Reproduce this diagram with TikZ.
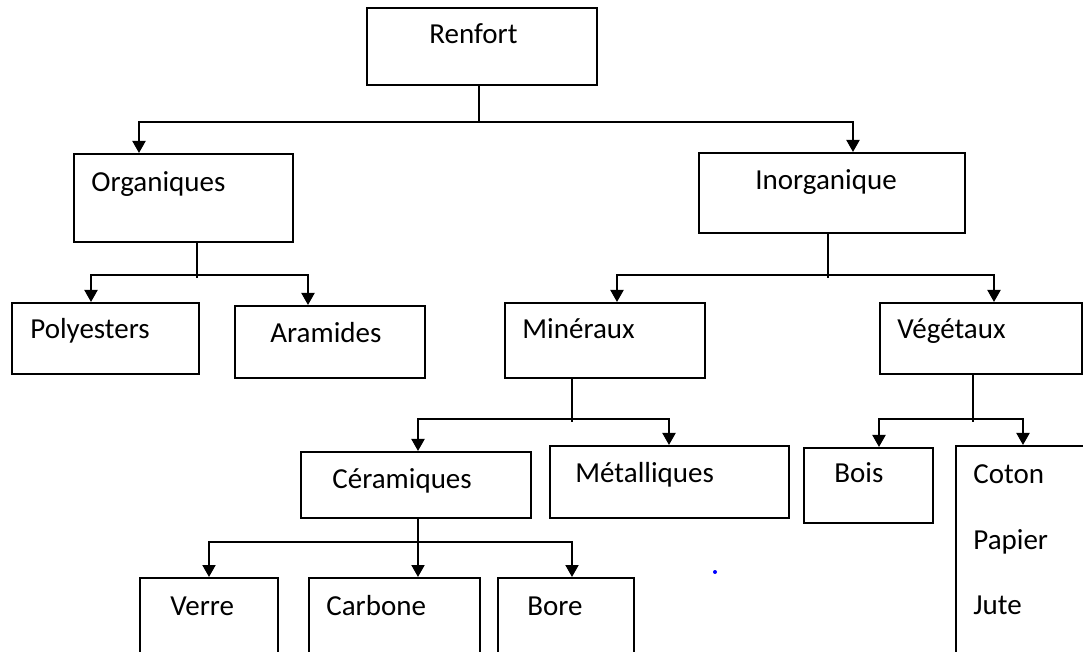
\documentclass[tikz,border=0pt]{standalone}
\usepackage{fontspec}
\setmainfont{Carlito}
\usetikzlibrary{arrows.meta}

\begin{document}
\begin{tikzpicture}[x=0.5pt, y=-0.5pt,
    boite/.style={draw, line width=1pt, anchor=north west, inner sep=0pt},
    mot/.style={anchor=base west, inner sep=0pt, font=\fontsize{14.5}{17}\selectfont},
    lien/.style={line width=1pt},
    fleche/.style={line width=1pt, -{Triangle[width=6.5pt, length=6pt]}}]

  \useasboundingbox (0,0) rectangle (1083,652);
  \clip (0,0) rectangle (1083,652);

  % Top level
  \node[boite, minimum width=115pt, minimum height=38.5pt] (renfort) at (366,7) {};
  \node[mot] (tRenfort) at (429,44) {Renfort};

  % Second level
  \node[boite, minimum width=109.5pt, minimum height=44pt] (organiques) at (73,153) {};
  \node[mot] (tOrganiques) at (91,192) {Organiques};
  \node[boite, minimum width=133pt, minimum height=40pt] (inorganique) at (698,152) {};
  \node[mot] (tInorganique) at (755,190) {Inorganique};

  % Third level
  \node[boite, minimum width=93.5pt, minimum height=35.5pt] (polyesters) at (11,302) {};
  \node[mot] (tPolyesters) at (30,339) {Polyesters};
  \node[boite, minimum width=95pt, minimum height=36pt] (aramides) at (234,305) {};
  \node[mot] (tAramides) at (270,343) {Aramides};
  \node[boite, minimum width=100pt, minimum height=37.5pt] (mineraux) at (504,302) {};
  \node[mot] (tMineraux) at (522,339) {Minéraux};
  \node[boite, minimum width=101pt, minimum height=35.5pt] (vegetaux) at (879,302) {};
  \node[mot] (tVegetaux) at (897,339) {Végétaux};

  % Fourth level
  \node[boite, minimum width=115pt, minimum height=33pt] (ceramiques) at (300,451) {};
  \node[mot] (tCeramiques) at (332,488) {Céramiques};
  \node[boite, minimum width=119.5pt, minimum height=36pt] (metalliques) at (549,445) {};
  \node[mot] (tMetalliques) at (575,482) {Métalliques};
  \node[boite, minimum width=64.5pt, minimum height=37.5pt] (bois) at (803,447) {};
  \node[mot] (tBois) at (834,483) {Bois};
  \node[boite, minimum width=72.5pt, minimum height=127.5pt] (coton) at (955,445) {};
  \node[mot] (tCoton) at (973,484) {Coton};
  \node[mot] (tPapier) at (973,550) {Papier};
  \node[mot] (tJute) at (973,614) {Jute};

  % Bottom level (cut by the page)
  \node[boite, minimum width=69pt, minimum height=61.5pt] (verre) at (139,577) {};
  \node[mot] (tVerre) at (170,615) {Verre};
  \node[boite, minimum width=85.5pt, minimum height=61.5pt] (carbone) at (308,577) {};
  \node[mot] (tCarbone) at (326,615) {Carbone};
  \node[boite, minimum width=68pt, minimum height=61.5pt] (bore) at (497,577) {};
  \node[mot] (tBore) at (527,615) {Bore};

  % Branches
  \coordinate (h1) at (479,122);
  \draw[lien] (renfort.south -| h1) -- (h1);
  \draw[fleche] (h1) -| (139,0 |- organiques.north);
  \draw[fleche] (h1) -| (853,0 |- inorganique.north);

  \coordinate (h2) at (197,275);
  \draw[lien] (organiques.south -| h2) -- ([yshift=-1.5pt]h2);
  \draw[fleche] (h2) -| (91,0 |- polyesters.north);
  \draw[fleche] (h2) -| (308,0 |- aramides.north);

  \coordinate (h3) at (828,275);
  \draw[lien] (inorganique.south -| h3) -- ([yshift=-1.5pt]h3);
  \draw[fleche] (h3) -| (617,0 |- mineraux.north);
  \draw[fleche] (h3) -| (994,0 |- vegetaux.north);

  \coordinate (h4) at (572,419);
  \draw[lien] (mineraux.south -| h4) -- ([yshift=-1.5pt]h4);
  \draw[fleche] (h4) -| (418,0 |- ceramiques.north);
  \draw[fleche] (h4) -| (669,0 |- metalliques.north);

  \coordinate (h5) at (973,419);
  \draw[lien] (vegetaux.south -| h5) -- ([yshift=-1.5pt]h5);
  \draw[fleche] (h5) -| (879,0 |- bois.north);
  \draw[fleche] (h5) -| (1023,0 |- coton.north);

  \coordinate (h6) at (418,542);
  \draw[fleche] (ceramiques.south -| h6) -- (carbone.north -| h6);
  \draw[fleche] (h6) -| (209,0 |- verre.north);
  \draw[fleche] (h6) -| (572,0 |- bore.north);

  % stray dot
  \fill[blue] (715,572) circle (1pt);

\end{tikzpicture}
\end{document}
